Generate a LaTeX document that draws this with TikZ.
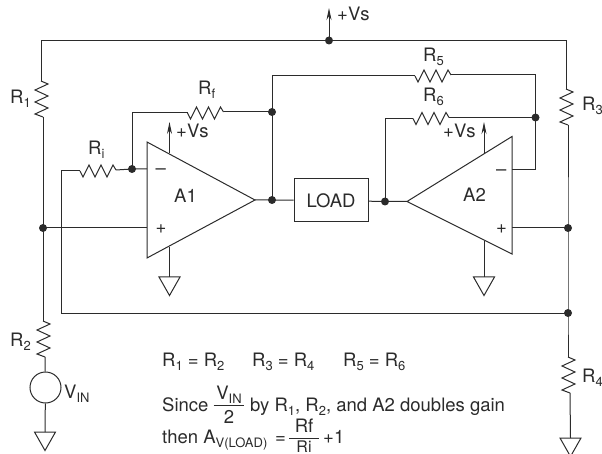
\documentclass[tikz,border=0pt]{standalone}
\usepackage{fontspec}
\setmainfont{TeX Gyre Heros}
\usetikzlibrary{arrows.meta}
\definecolor{ink}{HTML}{2B2B2B}
\newcommand{\sbs}[1]{\raisebox{-4pt}{\fontsize{13}{14}\selectfont #1}}
\newcommand{\vres}[1]{\draw[wire] (#1) -- ++(7,3) -- ++(-13,6) -- ++(13,6) -- ++(-13,6) -- ++(13,6) -- ++(-13,6) -- ++(8,3) coordinate (#1e);}
\newcommand{\hres}[1]{\draw[wire] (#1) -- ++(3,6) -- ++(6,-12) -- ++(6,12) -- ++(6,-12) -- ++(6,12) -- ++(6,-12) -- ++(3,5) coordinate (#1e);}
\newcommand{\gnd}[1]{\draw[wire] (#1) -- ++(10.5,0) -- ++(-10.5,18.5) -- ++(-10.5,-18.5) -- cycle;}
\tikzset{
  wire/.style={draw=ink,line width=1pt,line join=miter},
  dot/.style={circle,fill=ink,inner sep=0pt,minimum size=8pt},
  txt/.style={inner sep=0pt,anchor=base west,text=ink,font=\fontsize{18.5}{21}\selectfont},
  ctxt/.style={inner sep=0pt,anchor=base,text=ink,font=\fontsize{18.5}{21}\selectfont},
  up/.style={wire,-{Stealth[length=12pt,width=5pt]}},
  loadbox/.style={draw=ink,line width=1pt,minimum width=74pt,minimum height=43pt,inner sep=0pt,text=ink,font=\fontsize{18.5}{21}\selectfont},
  src/.style={circle,draw=ink,line width=1pt,minimum size=31pt,inner sep=0pt},
}
\begin{document}
\begin{tikzpicture}[x=1pt,y=-1pt]
\useasboundingbox (0,0) rectangle (602,454);
\clip (0,0) rectangle (602,454);
% junctions
\node[dot] (jtop) at (329,40.5) {};
\node[dot] (jL) at (43,228) {};
\node[dot] (jminus1) at (132,169) {};
\node[dot] (jout1) at (272,200) {};
\node[dot] (jfb1) at (272,112) {};
\node[dot] (jfb2) at (535.5,117.5) {};
\node[dot] (jout2) at (385,201.5) {};
\node[dot] (jR) at (568,228) {};
\node[dot] (jB) at (568,313) {};
% points
\coordinate (r1) at (41,81);
\coordinate (r2) at (43,321);
\coordinate (r3) at (566,89);
\coordinate (r4) at (568,357);
\coordinate (ri) at (80,171);
\coordinate (rf) at (187.5,113);
\coordinate (r5) at (415,76);
\coordinate (r6) at (413,118.5);
\coordinate (a1t) at (147,142);
\coordinate (a1o) at (255,200);
\coordinate (a1b) at (147,258);
\coordinate (a2t) at (512,136.5);
\coordinate (a2o) at (407,201.5);
\coordinate (a2b) at (512,254);
\coordinate (a2m) at (512,169.5);
\coordinate (lb1) at (61,171);
\coordinate (lb2) at (61,313);
\coordinate (vs0) at (329,8);
\coordinate (vs1a) at (169.5,153.5);
\coordinate (vs1) at (169.5,122);
\coordinate (vs2a) at (484,154);
\coordinate (vs2) at (484,122);
\coordinate (g1a) at (169.5,247);
\coordinate (g1) at (169.5,277);
\coordinate (g2a) at (484,241);
\coordinate (g2) at (484,277);
\coordinate (g3) at (45,432);
\coordinate (g4) at (570.5,438);
\coordinate (f1a) at (213.5,405.5);
\coordinate (f1b) at (244,405.5);
\coordinate (f2a) at (289,438);
\coordinate (f2b) at (319,438);
% resistors
\vres{r1}\vres{r2}\vres{r3}\vres{r4}
\hres{ri}\hres{rf}\hres{r5}\hres{r6}
% op-amps
\draw[wire] (a1t) -- (a1o) -- (a1b) -- cycle;
\draw[wire] (a2t) -- (a2o) -- (a2b) -- cycle;
% load and source
\node[loadbox] (load) at (331,200.5) {LOAD};
\node[src] (vin) at (45.5,387.5) {};
% wires
\draw[wire] (r1) |- (jtop.center) -| (r3);
\draw[up] (jtop.center) -- (vs0);
\draw[wire] (r1e) -- (jL.center);
\draw[wire] (jL.center) -- (r2);
\draw[wire] (r2e) -- (vin);
\draw[wire] (vin) -- (g3);
\draw[wire] (jL.center) -- (a1t |- jL);
\draw[wire] (ri) -- (lb1) -- (lb2) -- (jB.center);
\draw[wire] (rie) -- (jminus1.center) -- (a1t |- jminus1);
\draw[wire] (jminus1.center) |- (rf);
\draw[wire] (rfe) -- (jfb1.center);
\draw[wire] (jfb1.center) -- (jout1.center);
\draw[wire] (jfb1.center) |- (r5);
\draw[wire] (a1o) -- (jout1.center) -- (load);
\draw[wire] (load) -- (jout2.center) -- (a2o);
\draw[wire] (jout2.center) |- (r6);
\draw[wire] (r6e) -- (jfb2.center);
\draw[wire] (r5e) -| (jfb2.center);
\draw[wire] (jfb2.center) |- (a2m);
\draw[wire] (a2t |- jR) -- (jR.center);
\draw[wire] (r3e) -- (jR.center) -- (jB.center) -- (r4);
\draw[wire] (r4e) -- (g4);
\draw[up] (vs1a) -- (vs1);
\draw[up] (vs2a) -- (vs2);
\draw[wire] (g1a) -- (g1);
\draw[wire] (g2a) -- (g2);
\gnd{g1}\gnd{g2}\gnd{g3}\gnd{g4}
% labels
\node[txt] (tvs0) at (337,21) {+Vs};
\node[txt] (tr1) at (10,104) {R\sbs{1}};
\node[txt] (tr2) at (10,346) {R\sbs{2}};
\node[txt] (tr3) at (582,111) {R\sbs{3}};
\node[txt] (tr4) at (582,382) {R\sbs{4}};
\node[txt] (tr5) at (423,62) {R\sbs{5}};
\node[txt] (tr6) at (423,102) {R\sbs{6}};
\node[txt] (tri) at (88,155) {R\sbs{i}};
\node[txt] (trf) at (198,95) {R\sbs{f}};
\node[txt] (tv1) at (176,138) {+Vs};
\node[txt] (tv2) at (443,138) {+Vs};
\node[txt] (ta1) at (174,203) {A1};
\node[txt] (ta2) at (463,202) {A2};
\node[txt] (tm1) at (155.5,175) {–};
\node[txt] (tp1) at (155.5,234) {+};
\node[txt] (tm2) at (496,176) {–};
\node[txt] (tp2) at (496,234) {+};
\node[txt] (tvin) at (64,398) {V\sbs{IN}};
\node[txt] (teq) at (162,366) {R\sbs{1} = R\sbs{2}};
\node[txt] (teq2) at (252,366) {R\sbs{3} = R\sbs{4}};
\node[txt] (teq3) at (343,366) {R\sbs{5} = R\sbs{6}};
\node[txt] (tsince) at (162,411) {Since};
\node[ctxt] (tfn) at (229,399) {V\sbs{IN}};
\node[ctxt] (tfd) at (229,423) {2};
\draw[wire] (f1a) -- (f1b);
\node[txt] (tby) at (250,411) {by R\sbs{1}, R\sbs{2}, and A2 doubles gain};
\node[txt] (tthen) at (162,443) {then A\sbs{V(LOAD)}};
\node[txt] (teqs) at (275,443) {=};
\node[ctxt] (tfn2) at (304,432) {Rf};
\node[ctxt,font=\fontsize{16}{18}\selectfont] (tfd2) at (304,452) {Ri};
\draw[wire] (f2a) -- (f2b);
\node[txt] (tp) at (323,443) {+1};
\end{tikzpicture}
\end{document}
